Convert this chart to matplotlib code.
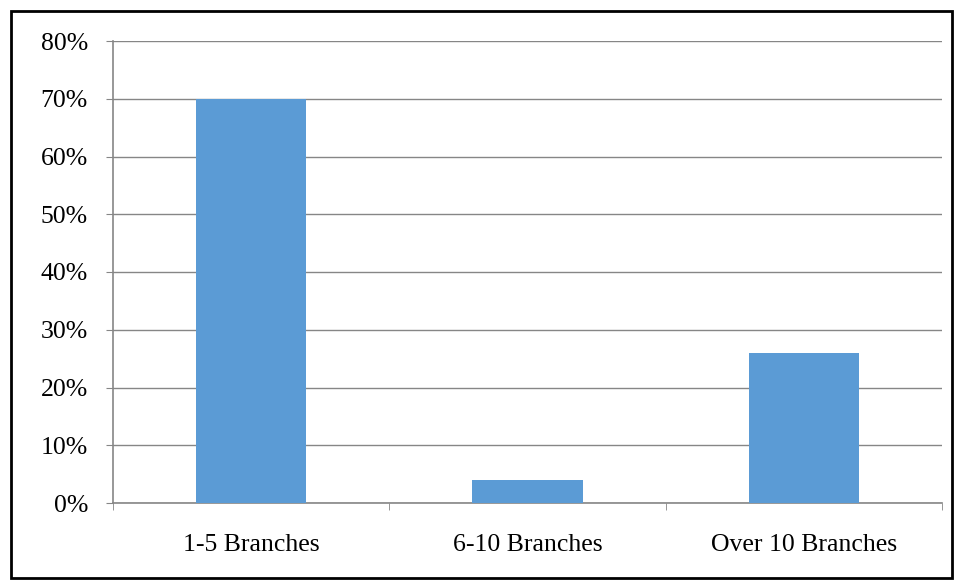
import numpy as np
import matplotlib
matplotlib.use("Agg")
from matplotlib import pyplot as plt
from matplotlib.patches import Rectangle
from matplotlib.ticker import PercentFormatter, FixedLocator

categories = ["1-5 Branches", "6-10 Branches", "Over 10 Branches"]
shares = [70, 4, 26]
y_ticks = [0, 10, 20, 30, 40, 50, 60, 70, 80]

plt.rcParams['font.family'] = ['Liberation Serif', 'DejaVu Serif']

fig = plt.figure(figsize=(9.56, 5.8), dpi=100)
ax = fig.add_axes([113 / 956, 1 - 503 / 580, (942 - 113) / 956, (503 - 41) / 580])

grey = '#868686'
x = np.arange(len(categories))
ax.bar(x, shares, width=0.4, color='#5b9bd5', zorder=3)

ax.set_xlim(-0.5, len(categories) - 0.5)
ax.set_ylim(0, 80)
ax.set_yticks(y_ticks)
ax.yaxis.set_major_formatter(PercentFormatter(decimals=0))
ax.set_xticks(x)
ax.set_xticklabels(categories)
ax.xaxis.set_minor_locator(FixedLocator(np.arange(-0.5, len(categories), 1)))

ax.grid(axis='y', color=grey, linewidth=1.0, zorder=0)
for side in ['top', 'right']:
    ax.spines[side].set_visible(False)
for side in ['left', 'bottom']:
    ax.spines[side].set_color(grey)
    ax.spines[side].set_linewidth(1.2)

ax.tick_params(axis='y', length=5, color=grey, labelsize=18.5, pad=13)
ax.tick_params(axis='x', which='major', length=0, labelsize=18.5, pad=22)
ax.tick_params(axis='x', which='minor', length=5, color=grey)

# outer frame round the whole chart
fig.patches.append(Rectangle((11 / 956, 2 / 580), 941 / 956, 567 / 580,
                             transform=fig.transFigure, fill=False,
                             edgecolor='black', linewidth=2))

fig.savefig("out.png", dpi=100)
